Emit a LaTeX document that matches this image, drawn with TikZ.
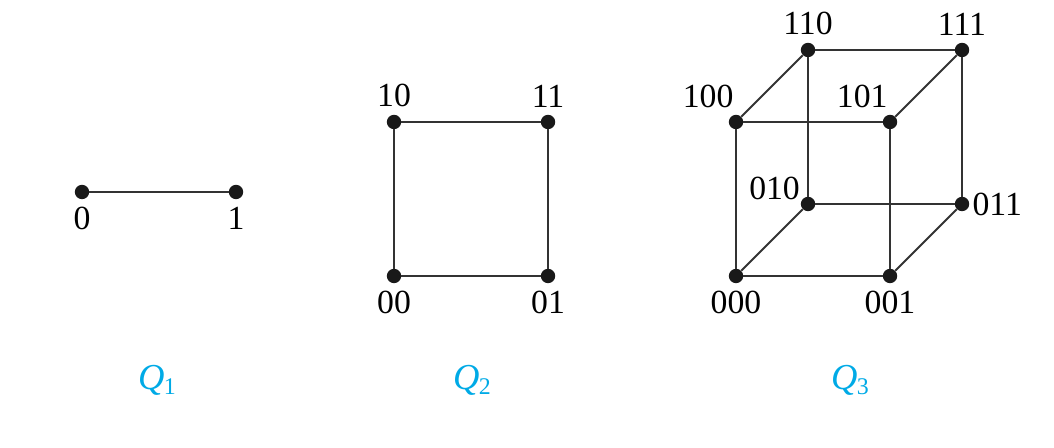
\documentclass[tikz,border=0pt]{standalone}
\usepackage{fontspec}
\setmainfont{Liberation Serif}
\usepackage{tikz}
\definecolor{qcyan}{RGB}{0,170,230}
\newcommand{\qsub}[1]{\textit{Q}\kern-0.5pt\raisebox{-0.3ex}{\fontsize{17}{17}\selectfont #1}}

\begin{document}
\begin{tikzpicture}[
  vtx/.style={circle, fill=black!90, inner sep=0pt, minimum size=0.36cm},
  lbl/.style={font=\fontsize{24}{26}\selectfont, inner sep=1pt},
  qname/.style={font=\fontsize{26}{28}\selectfont, text=qcyan},
  every label/.style={lbl},
  label distance=4pt,
  edge/.style={line width=1.5pt, black!80}
]
  \useasboundingbox (0,0) rectangle (26.35,11.2);

  % Q_1
  \node[vtx, label={below:0}] (a0) at (2.05,6.4) {};
  \node[vtx, label={below:1}] (a1) at (5.9,6.4) {};
  \draw[edge] (a0) -- (a1);

  % Q_2
  \node[vtx, label={above:10}] (b10) at (9.85,8.15) {};
  \node[vtx, label={above:11}] (b11) at (13.7,8.15) {};
  \node[vtx, label={below:00}] (b00) at (9.85,4.3) {};
  \node[vtx, label={below:01}] (b01) at (13.7,4.3) {};
  \draw[edge] (b00) -- (b01) -- (b11) -- (b10) -- (b00);

  % Q_3
  \node[vtx, label={[xshift=6pt,yshift=2pt]above left:100}] (c100) at (18.4,8.15) {};
  \node[vtx, label={[xshift=6pt,yshift=2pt]above left:101}] (c101) at (22.25,8.15) {};
  \node[vtx, label={above:110}] (c110) at (20.2,9.95) {};
  \node[vtx, label={above:111}] (c111) at (24.05,9.95) {};
  \node[vtx, label={below:000}] (c000) at (18.4,4.3) {};
  \node[vtx, label={below:001}] (c001) at (22.25,4.3) {};
  \node[vtx, label={[xshift=2pt,yshift=-5pt]above left:010}] (c010) at (20.2,6.1) {};
  \node[vtx, label={[xshift=-3pt]right:011}] (c011) at (24.05,6.1) {};
  \draw[edge] (c000) -- (c001) -- (c101) -- (c100) -- (c000);
  \draw[edge] (c010) -- (c011) -- (c111) -- (c110) -- (c010);
  \draw[edge] (c000) -- (c010);
  \draw[edge] (c001) -- (c011);
  \draw[edge] (c100) -- (c110);
  \draw[edge] (c101) -- (c111);

  \node[qname] (q1) at (3.925,1.7) {\qsub{1}};
  \node[qname] (q2) at (11.8,1.7) {\qsub{2}};
  \node[qname] (q3) at (21.25,1.7) {\qsub{3}};
\end{tikzpicture}
\end{document}
